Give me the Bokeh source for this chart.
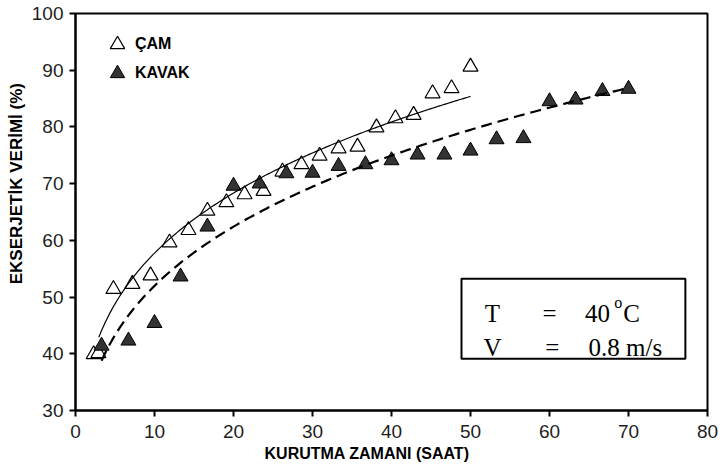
import numpy as np
from bokeh.plotting import figure
from bokeh.models import (Range1d, FixedTicker, Legend, LegendItem, Label,
                          BoxAnnotation)
from bokeh.embed import file_html
from bokeh.resources import INLINE

# ---- data ----
cam_x = [2.3, 2.9, 4.8, 7.2, 9.5, 11.9, 14.3, 16.7, 19.1, 21.4, 23.8, 26.2,
         28.6, 30.9, 33.3, 35.7, 38.1, 40.5, 42.8, 45.2, 47.6, 50.0]
cam_y = [39.9, 40.1, 51.4, 52.3, 53.8, 59.6, 61.8, 65.2, 66.7, 68.1, 68.7, 72.1,
         73.4, 74.9, 76.2, 76.5, 79.9, 81.5, 82.1, 85.9, 86.8, 90.6]

kavak_x = [3.3, 6.7, 10.0, 13.3, 16.7, 20.0, 23.3, 26.7, 30.0, 33.3, 36.7,
           40.0, 43.3, 46.7, 50.0, 53.3, 56.7, 60.0, 63.3, 66.7, 70.0]
kavak_y = [41.4, 42.3, 45.4, 53.6, 62.4, 69.6, 70.0, 71.8, 71.9, 73.1, 73.4,
           74.1, 75.1, 75.1, 75.8, 77.8, 78.0, 84.5, 84.8, 86.3, 86.7]

# power trend lines y = a * x^b, as drawn in the reference (a, b, x_start, x_end)
cam_fit = [33.0, 0.243, 2.95, 50.0]
kavak_fit = [28.3, 0.264, 3.3, 70.0]

x_ticks = [0, 10, 20, 30, 40, 50, 60, 70, 80]
y_ticks = [30, 40, 50, 60, 70, 80, 90, 100]

series_names = ["ÇAM", "KAVAK"]
x_title = "KURUTMA ZAMANI (SAAT)"
y_title = "EKSERJETİK VERİMİ (%)"


def fit_curve(params):
    a, b, x0, x1 = params
    fx = np.linspace(x0, x1, 200)
    return fx, a * fx ** b


p = figure(width=720, height=471, x_range=Range1d(0, 80), y_range=Range1d(30, 100),
           output_backend="svg", toolbar_location=None,
           min_border_left=75, min_border_right=13, min_border_top=13,
           min_border_bottom=61, background_fill_color="white",
           border_fill_color="white")
p.xgrid.visible = False
p.ygrid.visible = False
p.outline_line_color = "black"
p.outline_line_width = 2
p.outline_line_alpha = 1

p.xaxis.ticker = FixedTicker(ticks=x_ticks)
p.yaxis.ticker = FixedTicker(ticks=y_ticks)
for ax in (p.xaxis[0], p.yaxis[0]):
    ax.axis_line_color = "black"
    ax.axis_line_width = 2
    ax.major_tick_line_color = "black"
    ax.major_tick_line_width = 2
    ax.major_tick_out = 6
    ax.major_tick_in = 0
    ax.minor_tick_line_color = None
    ax.major_label_text_font = "Liberation Sans"
    ax.major_label_text_font_size = "19px"
    ax.major_label_text_color = "#1e1e1e"
    ax.axis_label_text_font = "Liberation Sans"
    ax.axis_label_text_font_style = "bold"
    ax.axis_label_text_color = "black"
p.xaxis.major_label_standoff = 8
p.yaxis.major_label_standoff = 6

# no-break spaces shift the titles off the axis centre, as in the reference
p.xaxis.axis_label = x_title + "\u00a0" * 11
p.xaxis.axis_label_text_font_size = "16px"
p.xaxis.axis_label_standoff = 4
p.yaxis.axis_label = "\u00a0" * 12 + y_title
p.yaxis.axis_label_text_font_size = "17px"
p.yaxis.axis_label_standoff = 3

# data markers
r_cam = p.scatter(cam_x, cam_y, marker="triangle", size=15, fill_color="white",
                  line_color="black", line_width=1.2)
r_kav = p.scatter(kavak_x, kavak_y, marker="triangle", size=15, fill_color="#333333",
                  line_color="black", line_width=1)

# power trend lines
cx, cy = fit_curve(cam_fit)
kx, ky = fit_curve(kavak_fit)
p.line(cx, cy, line_color="black", line_width=1.2)
p.line(kx, ky, line_color="black", line_width=2.2, line_dash="11 6")

# legend: one entry per Legend so each sits where the reference shows it
legend_style = dict(padding=0, margin=0, glyph_width=36, glyph_height=36,
                    label_standoff=-5, border_line_color=None,
                    background_fill_alpha=0, label_text_font="Liberation Sans",
                    label_text_font_style="bold", label_text_font_size="16px",
                    label_text_color="black")
for name, rend, loc in [(series_names[0], r_cam, (24, 348)),
                        (series_names[1], r_kav, (24, 319))]:
    p.add_layout(Legend(items=[LegendItem(label=name, renderers=[rend])],
                        location=loc, **legend_style))

# conditions box
p.add_layout(BoxAnnotation(left=48.86, right=77.2, bottom=39.12, top=53.22,
                           fill_color="white", fill_alpha=1, line_color="black",
                           line_width=2, line_alpha=1))
serif = dict(text_font="Liberation Serif", text_font_size="25px",
             text_baseline="alphabetic", text_align="left", text_color="black")
for x, y, t in [(51.8, 47.16, "T"), (59.1, 47.16, "="), (64.5, 47.16, "40"),
                (69.35, 47.16, "C"), (51.65, 41.16, "V"), (59.45, 41.16, "="),
                (64.95, 41.16, "0.8 m/s")]:
    p.add_layout(Label(x=x, y=y, text=t, **serif))
p.add_layout(Label(x=68.2, y=49.1, text="o", text_font="Liberation Serif",
                   text_font_size="16px", text_baseline="alphabetic",
                   text_align="left", text_color="black"))

open("out.html", "w").write(file_html(p, INLINE))
